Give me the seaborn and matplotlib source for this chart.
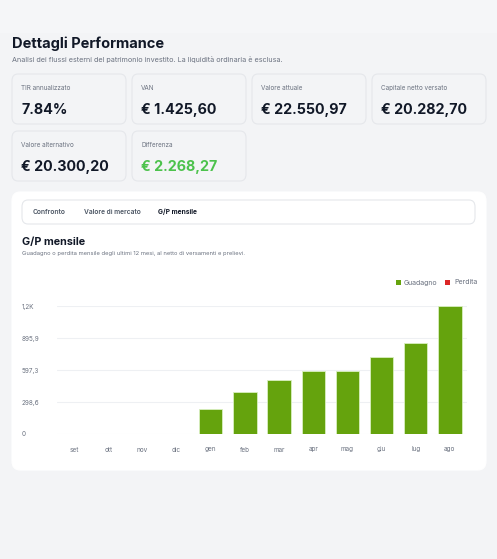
import matplotlib
matplotlib.use("Agg")
import matplotlib.pyplot as plt
import seaborn as sns
import pandas as pd
from matplotlib.patches import FancyBboxPatch
from matplotlib.ticker import FixedLocator

# data
months = ["set", "ott", "nov", "dic", "gen", "feb", "mar", "apr", "mag", "giu", "lug", "ago"]
gp_values = [0, 0, 0, 0, 233, 389, 504, 588, 588, 716, 847, 1194.6]
y_ticks = [0, 298.6, 597.3, 895.9, 1194.6]
y_tick_labels = ["0", "298,6", "597,3", "895,9", "1,2K"]

card_labels = ["TIR annualizzato", "VAN", "Valore attuale", "Capitale netto versato",
               "Valore alternativo", "Differenza"]
card_values = ["7.84%", "€ 1.425,60", "€ 22.550,97", "€ 20.282,70", "€ 20.300,20", "€ 2.268,27"]

W, H = 497, 559
sns.set_theme(style="white")
plt.rcParams['font.family'] = ['Inter', 'DejaVu Sans']

fig = plt.figure(figsize=(W / 100, H / 100), dpi=100)
fig.patch.set_facecolor("#f3f4f6")


def px(x, y):
    return x / W, 1 - y / H


def box(x, y, w, h, fc, ec, r=6):
    p = FancyBboxPatch((x / W, 1 - (y + h) / H), w / W, h / H,
                       boxstyle=f"round,pad=0,rounding_size={r / W}",
                       transform=fig.transFigure, fc=fc, ec=ec, lw=0.8, zorder=-1)
    fig.patches.append(p)


# lighter top band
fig.patches.append(FancyBboxPatch((0, 1 - 33 / H), 1, 33 / H, boxstyle="square,pad=0",
                                  transform=fig.transFigure, fc="#f5f6f8", ec="none", zorder=-2))

fig.text(*px(12, 44), "Dettagli Performance", fontsize=10.5, fontweight="bold",
         color="#111827", va="center")
fig.text(*px(12, 60), "Analisi dei flussi esterni del patrimonio investito. La liquidità ordinaria è esclusa.",
         fontsize=5.2, color="#6b7280", va="center")

card_pos = [(12, 74), (132, 74), (252, 74), (372, 74), (12, 131), (132, 131)]
for (cx, cy), lab, val in zip(card_pos, card_labels, card_values):
    box(cx, cy, 114, 50, "#f3f4f6", "#e5e7eb")
    fig.text(*px(cx + 9, cy + 14), lab, fontsize=4.6, color="#6b7280", va="center")
    col = "#4cc24c" if lab == "Differenza" else "#111827"
    fig.text(*px(cx + 9, cy + 36), val, fontsize=10.3, fontweight="bold", color=col, va="center")

box(12, 192, 474, 278, "white", "white", r=8)
box(22, 200, 453, 24, "white", "#e5e7eb", r=6)
fig.text(*px(33, 212), "Confronto", fontsize=4.8, color="#4b5563", va="center", fontweight="semibold")
fig.text(*px(84, 212), "Valore di mercato", fontsize=4.8, color="#4b5563", va="center", fontweight="semibold")
fig.text(*px(158, 212), "G/P mensile", fontsize=4.8, color="#111827", va="center", fontweight="bold")
fig.text(*px(22, 242), "G/P mensile", fontsize=7.8, color="#111827", va="center", fontweight="bold")
fig.text(*px(22, 254), "Guadagno o perdita mensile degli ultimi 12 mesi, al netto di versamenti e prelievi.",
         fontsize=4.2, color="#6b7280", va="center")

# legend
fig.patches.append(FancyBboxPatch((396 / W, 1 - 285 / H), 5 / W, 5 / H, boxstyle="square,pad=0",
                                  transform=fig.transFigure, fc="#65a30d", ec="none"))
fig.text(*px(404, 282.5), "Guadagno", fontsize=5, color="#6b7280", va="center")
fig.patches.append(FancyBboxPatch((445 / W, 1 - 285 / H), 5 / W, 5 / H, boxstyle="square,pad=0",
                                  transform=fig.transFigure, fc="#dc2626", ec="none"))
fig.text(*px(454, 282.5), "Perdita", fontsize=5, color="#6b7280", va="center")

# chart
ax = fig.add_axes([57 / W, 1 - 434 / H, (467 - 57) / W, 128 / H])
ax.patch.set_alpha(0)
df = pd.DataFrame({"month": months, "value": gp_values})
sns.barplot(data=df, x="month", y="value", color="#65a30d", saturation=1,
            width=0.68, ax=ax, edgecolor="#d9f0c0", linewidth=0.6)
ax.set_ylim(0, 1194.6)
ax.yaxis.set_major_locator(FixedLocator(y_ticks))
ax.set_yticklabels(y_tick_labels)
ax.grid(axis="y", color="#eef0f3", lw=0.8)
ax.set_axisbelow(True)
for s in ax.spines.values():
    s.set_visible(False)
ax.set_xlabel("")
ax.set_ylabel("")
ax.tick_params(axis="y", labelsize=4.6, labelcolor="#6b7280", length=0, pad=1)
ax.tick_params(axis="x", labelsize=4.6, labelcolor="#6b7280", length=0, pad=9)
for lbl in ax.get_yticklabels():
    lbl.set_horizontalalignment("left")
    lbl.set_x(-0.082)

fig.savefig("out.png", dpi=100, facecolor=fig.get_facecolor())
